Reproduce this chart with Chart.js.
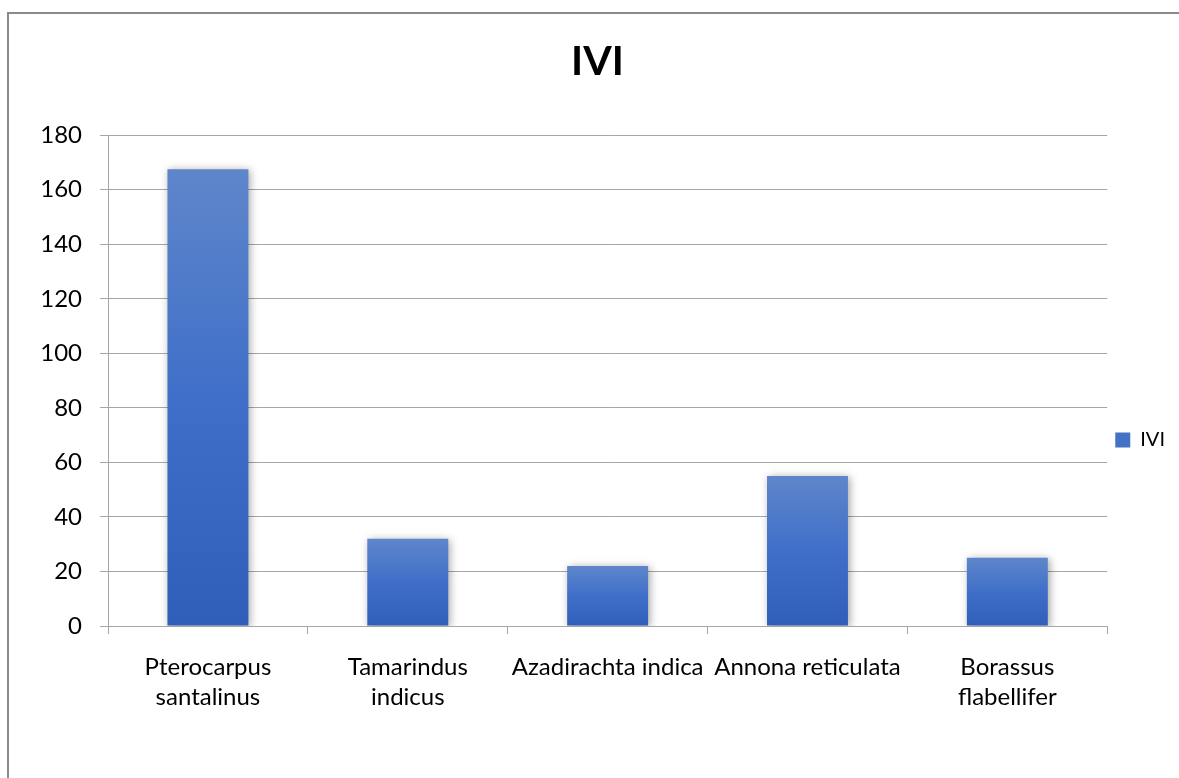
<!DOCTYPE html>
<html>
<head>
<meta charset="utf-8">
<script src="https://cdn.jsdelivr.net/npm/chart.js@4"></script>
<style>
  html, body { margin: 0; padding: 0; background: #fff; overflow: hidden; }
  #frame { position: absolute; left: 7px; top: 12px; width: 1300px; height: 900px;
           border-left: 2px solid #8a8a8a; border-top: 2px solid #8a8a8a; box-sizing: border-box; }
  #wrap { position: absolute; left: 0; top: 0; width: 1179px; height: 880px; }
</style>
</head>
<body>
<div id="frame"></div>
<div id="wrap"><canvas id="c" width="1179" height="880"></canvas></div>
<script>
const categories = [
  ["Pterocarpus", "santalinus"],
  ["Tamarindus", "indicus"],
  "Azadirachta indica",
  "Annona reticulata",
  ["Borassus", "flabellifer"]
];
const seriesName = "IVI";
const ivi = [167.5, 32, 22, 55, 25];
const yTicks = [0, 20, 40, 60, 80, 100, 120, 140, 160, 180];

const FONT = "Lato, 'Open Sans', sans-serif";
const GRID = "#a6a6a6";

const shadowPlugin = {
  id: 'barShadow',
  beforeDatasetsDraw(chart) {
    const ctx = chart.ctx;
    ctx.save();
    ctx.shadowColor = 'rgba(0,0,0,0.35)';
    ctx.shadowBlur = 8;
    ctx.shadowOffsetX = 2;
    ctx.shadowOffsetY = 1;
  },
  afterDatasetsDraw(chart) {
    chart.ctx.restore();
  }
};

function barGradient(context) {
  const chart = context.chart;
  const area = chart.chartArea;
  if (!area || context.type !== 'data') return '#4a74c4';
  const yScale = chart.scales.y;
  const v = context.raw;
  const top = yScale.getPixelForValue(v);
  const bottom = yScale.getPixelForValue(0);
  if (!isFinite(top) || !isFinite(bottom) || top === bottom) return '#4a74c4';
  const g = chart.ctx.createLinearGradient(0, top, 0, bottom);
  g.addColorStop(0, '#5f86cb');
  g.addColorStop(0.5, '#3f6fc8');
  g.addColorStop(1, '#2f5fb8');
  return g;
}

new Chart(document.getElementById('c'), {
  type: 'bar',
  data: {
    labels: categories,
    datasets: [{
      label: seriesName,
      data: ivi,
      backgroundColor: barGradient,
      borderWidth: 0,
      categoryPercentage: 1.0,
      barPercentage: 0.405
    }]
  },
  plugins: [shadowPlugin],
  options: {
    responsive: false,
    animation: false,
    devicePixelRatio: 1,
    layout: { padding: { left: 20, right: 4, top: 0, bottom: 0 } },
    plugins: {
      tooltip: { enabled: false },
      title: {
        display: true,
        text: 'IVI',
        color: '#000',
        font: { family: FONT, size: 41, weight: 'bold', lineHeight: 1.2 },
        padding: { top: 37, bottom: 49 }
      },
      legend: {
        display: true,
        position: 'right',
        align: 'center',
        labels: {
          color: '#000',
          font: { family: FONT, size: 20 },
          boxWidth: 15,
          boxHeight: 15,
          padding: 8,
          generateLabels(chart) {
            return [{
              text: seriesName,
              fillStyle: '#4472c4',
              strokeStyle: '#4472c4',
              lineWidth: 0,
              hidden: false,
              datasetIndex: 0
            }];
          }
        }
      }
    },
    scales: {
      x: {
        offset: true,
        afterFit(scale) { scale.height = 254; },
        grid: {
          display: true,
          drawOnChartArea: false,
          drawTicks: true,
          tickLength: 8,
          color: GRID,
          lineWidth: 1,
          offset: true
        },
        border: { display: true, color: GRID, width: 1 },
        ticks: {
          autoSkip: false,
          maxRotation: 0,
          minRotation: 0,
          padding: 18,
          color: '#000',
          font: { family: FONT, size: 24, lineHeight: 1.25 }
        }
      },
      y: {
        min: 0,
        max: 180,
        afterFit(scale) { scale.width = 88; },
        afterBuildTicks(scale) { scale.ticks = yTicks.map(v => ({ value: v })); },
        grid: {
          color: GRID,
          lineWidth: 1,
          tickLength: 8,
          drawTicks: true
        },
        border: { display: true, color: GRID, width: 1 },
        ticks: {
          stepSize: 20,
          padding: 18,
          color: '#000',
          font: { family: FONT, size: 24 }
        }
      }
    }
  }
});
</script>
</body>
</html>
